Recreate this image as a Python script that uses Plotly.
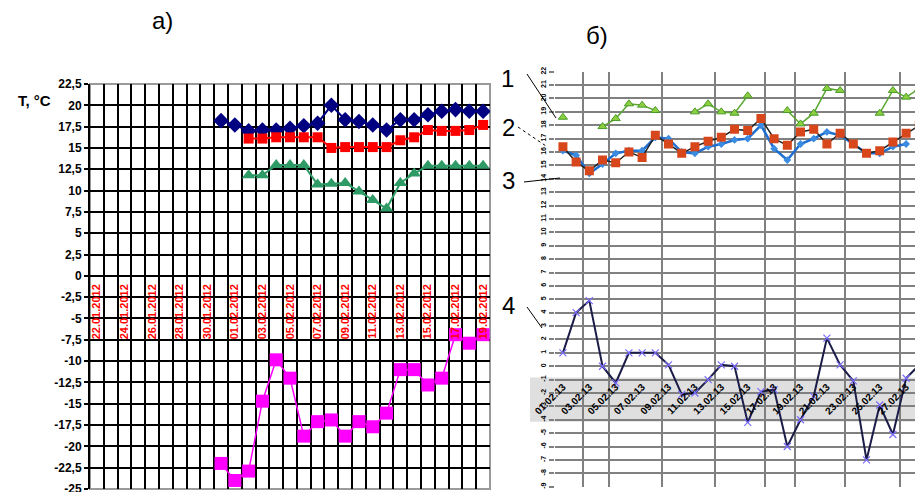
import plotly.graph_objects as go

W, H = 923, 492

# ---------------- panel а) data ----------------
dates_a = ["22.01.2012", "23.01.2012", "24.01.2012", "25.01.2012", "26.01.2012",
           "27.01.2012", "28.01.2012", "29.01.2012", "30.01.2012", "31.01.2012",
           "01.02.2012", "02.02.2012", "03.02.2012", "04.02.2012", "05.02.2012",
           "06.02.2012", "07.02.2012", "08.02.2012", "09.02.2012", "10.02.2012",
           "11.02.2012", "12.02.2012", "13.02.2012", "14.02.2012", "15.02.2012",
           "16.02.2012", "17.02.2012", "18.02.2012", "19.02.2012"]
navy_a = [None] * 9 + [18.2, 17.7, 17.0, 17.1, 17.1, 17.3, 17.6, 17.9, 20.0, 18.3,
                       18.1, 17.7, 17.1, 18.3, 18.3, 18.9, 19.3, 19.5, 19.3, 19.3]
red_a = [None] * 11 + [16.1, 16.1, 16.25, 16.25, 16.25, 16.25, 15.0, 15.1, 15.1,
                       15.1, 15.1, 15.9, 16.25, 17.1, 17.0, 17.0, 17.1, 17.7]
green_a = [None] * 11 + [11.8, 11.8, 13.0, 13.0, 13.0, 10.7, 10.8, 10.9, 9.9,
                         8.9, 7.9, 10.9, 12.0, 12.9, 12.9, 12.9, 12.9, 12.9]
magenta_a = [None] * 9 + [-22.0, -24.0, -22.9, -14.7, -9.85, -12.0, -18.8, -17.1,
                          -16.9, -18.8, -17.1, -17.7, -16.1, -11.0, -11.0, -12.8,
                          -12.0, -6.9, -7.9, -6.9]
yticks_a = [-25, -22.5, -20, -17.5, -15, -12.5, -10, -7.5, -5, -2.5, 0,
            2.5, 5, 7.5, 10, 12.5, 15, 17.5, 20, 22.5]
yticktext_a = [str(v).replace(".", ",").replace(",0", "") for v in yticks_a]

# ---------------- panel б) data ----------------
dates_b = ["01.02.13", "02.02.13", "03.02.13", "04.02.13", "05.02.13", "06.02.13",
           "07.02.13", "08.02.13", "09.02.13", "10.02.13", "11.02.13", "12.02.13",
           "13.02.13", "14.02.13", "15.02.13", "16.02.13", "17.02.13", "18.02.13",
           "19.02.13", "20.02.13", "21.02.13", "22.02.13", "23.02.13", "24.02.13",
           "25.02.13", "26.02.13", "27.02.13", "28.02.13"]
s1_b = [18.6, None, None, 17.9, 18.5, 19.6, 19.5, 19.1, None, None, 19.0, 19.6,
        19.0, 18.9, 20.2, None, None, 19.1, 18.1, 18.9, 20.75, 20.6, None, None,
        18.9, 20.6, 20.1, 20.75]
s2_b = [16.4, 15.25, 14.6, 15.4, 15.2, 16.0, 15.6, 17.25, 16.6, 15.9, 16.4, 16.8,
        17.1, 17.7, 17.6, 18.5, 17.0, 16.5, 17.5, 17.7, 16.6, 17.4, 16.6, 15.9,
        16.1, 16.75, 17.4, 18.0]
s3_b = [16.1, 15.75, 14.4, 15.1, 15.9, 16.1, 16.1, 17.1, 17.0, 16.0, 15.9, 16.4,
        16.6, 16.9, 17.0, 18.0, 16.25, 15.4, 16.6, 17.0, 17.5, 17.25, 16.6, 15.9,
        15.9, 16.4, 16.6, None]
s4_b = [1.0, 4.0, 4.9, 0.0, -1.25, 1.0, 1.0, 1.0, 0.1, -2.1, -2.0, -1.0, 0.1, 0.0,
        -4.2, -1.9, -1.75, -6.0, -4.0, -2.25, 2.1, 0.1, -1.1, -7.0, -2.9, -5.1,
        -0.9, 0.1]
yticks_b = list(range(-9, 23))

# ---------------- geometry helpers (page has an 8px body margin) ----------------
OFF = 8


def px(x):
    return (x - OFF) / W


def py(y):
    return 1 - (y - OFF) / H


xa = list(range(len(dates_a)))
xb = list(range(len(dates_b)))

ax_l = [px(90), px(490)]
ay_l = [py(489), py(84)]
yr_l = [-25, 22.5]
pos0_l = ay_l[0] + (0 - yr_l[0]) / (yr_l[1] - yr_l[0]) * (ay_l[1] - ay_l[0])

ax_r = [px(555), 1.0]
ay_r = [py(486.7), py(71.7)]
yr_r = [-9, 22]
xr_r = [-0.6, -0.6 + (W + OFF - 555) / 13.2]
pos0_r = ay_r[0] + (0 - yr_r[0]) / (yr_r[1] - yr_r[0]) * (ay_r[1] - ay_r[0])

FONT = "Liberation Sans"
NARROW = "Liberation Sans Narrow, Liberation Sans, Arial"

fig = go.Figure()

# panel а) traces
fig.add_trace(go.Scatter(x=xa, y=navy_a, mode="lines+markers", xaxis="x", yaxis="y",
                         line=dict(color="#000080", width=2),
                         marker=dict(symbol="diamond", size=12, color="#000080")))
fig.add_trace(go.Scatter(x=xa, y=red_a, mode="lines+markers", xaxis="x", yaxis="y",
                         line=dict(color="#ff0000", width=2),
                         marker=dict(symbol="square", size=10, color="#ff0000")))
fig.add_trace(go.Scatter(x=xa, y=green_a, mode="lines+markers", xaxis="x", yaxis="y",
                         line=dict(color="#2e9a66", width=2),
                         marker=dict(symbol="triangle-up", size=12, color="#2e9a66")))
fig.add_trace(go.Scatter(x=xa, y=magenta_a, mode="lines+markers", xaxis="x", yaxis="y",
                         line=dict(color="#ff00ff", width=1.5),
                         marker=dict(symbol="square", size=13, color="#ff00ff")))

# panel б) traces
fig.add_trace(go.Scatter(x=xb, y=s1_b, mode="lines+markers", xaxis="x2", yaxis="y2",
                         line=dict(color="#5aa832", width=1.5),
                         marker=dict(symbol="triangle-up", size=8, color="#8cd040",
                                     line=dict(color="#4a9a2a", width=1))))
fig.add_trace(go.Scatter(x=xb, y=s3_b, mode="lines+markers", xaxis="x2", yaxis="y2",
                         line=dict(color="#1e6fd0", width=2.5),
                         marker=dict(symbol="diamond", size=6, color="#3b8be0")))
fig.add_trace(go.Scatter(x=xb, y=s2_b, mode="lines+markers", xaxis="x2", yaxis="y2",
                         line=dict(color="#222222", width=1.5),
                         marker=dict(symbol="square", size=9, color="#d8461c")))
fig.add_trace(go.Scatter(x=xb, y=s4_b, mode="lines+markers", xaxis="x2", yaxis="y2",
                         line=dict(color="#1c1c48", width=2),
                         marker=dict(symbol="x-thin", size=7, color="#7a6cff",
                                     line=dict(color="#7a6cff", width=1.2))))

fig.update_layout(
    width=W, height=H, showlegend=False,
    margin=dict(l=0, r=0, t=0, b=0, autoexpand=False),
    paper_bgcolor="white", plot_bgcolor="rgba(0,0,0,0)",
    font=dict(family=FONT, color="black"),
    xaxis=dict(domain=ax_l, range=[-0.5, 28.5], anchor="free", position=pos0_l,
               automargin=False,
               tickmode="array", tickvals=xa[::2], ticktext=dates_a[::2],
               tickangle=-90, ticks="outside", ticklen=3, tickcolor="rgba(0,0,0,0)",
               tickfont=dict(family=NARROW, size=11, color="#ff0000", weight="bold"),
               showgrid=False, zeroline=False, showline=False,
               minor=dict(tick0=-0.5, dtick=1, showgrid=True, gridcolor="black",
                          gridwidth=2, ticks="")),
    yaxis=dict(domain=ay_l, range=yr_l, anchor="x", tickmode="array",
               automargin=False,
               tickvals=yticks_a, ticktext=yticktext_a,
               showgrid=True, gridcolor="black", gridwidth=2, zeroline=False,
               showline=True, linecolor="black", linewidth=2,
               ticks="outside", ticklen=4, tickwidth=2, tickcolor="black",
               tickfont=dict(family=NARROW, size=12, color="black", weight="bold")),
    xaxis2=dict(domain=ax_r, range=xr_r, anchor="free", position=pos0_r,
                automargin=False,
                tickmode="array", tickvals=xb[::2], ticktext=dates_b[::2],
                tickangle=-45, ticks="outside", ticklen=10, tickcolor="rgba(0,0,0,0)",
                tickfont=dict(family=FONT, size=10, color="black", weight="bold"),
                showgrid=False, zeroline=False, showline=False,
                minor=dict(tickmode="array",
                           tickvals=[1.5, 3.5, 7.5, 11.5, 15.3, 17.6, 21.4, 25.5],
                           showgrid=True, gridcolor="#808080", gridwidth=2, ticks="")),
    yaxis2=dict(domain=ay_r, range=yr_r, anchor="x2", tickmode="array",
                automargin=False,
                tickvals=yticks_b, ticktext=[str(v) for v in yticks_b],
                showgrid=True, gridcolor="#808080", gridwidth=2, zeroline=False,
                showline=False, ticks="outside", ticklen=5, tickwidth=1.5,
                tickcolor="#808080", tickangle=-90,
                tickfont=dict(family=FONT, size=7, color="black", weight="bold")),
)

# decorative shapes
shapes = [
    dict(type="rect", xref="x domain", yref="y domain", x0=0, x1=1, y0=0, y1=1,
         line=dict(color="#9a9a9a", width=2), layer="below"),
    dict(type="rect", xref="paper", yref="y2", x0=px(530), x1=px(918), y0=-0.85, y1=-4.15,
         fillcolor="#dcdcdc", line=dict(width=0), layer="below", opacity=0.9),
    dict(type="line", xref="paper", yref="paper", x0=px(527), y0=py(74), x1=px(556), y1=py(118),
         line=dict(color="black", width=1)),
    dict(type="line", xref="paper", yref="paper", x0=px(518), y0=py(127), x1=px(546), y1=py(146),
         line=dict(color="black", width=1, dash="dot")),
    dict(type="line", xref="paper", yref="paper", x0=px(524), y0=py(182), x1=px(560), y1=py(178),
         line=dict(color="black", width=1)),
    dict(type="line", xref="paper", yref="paper", x0=px(527), y0=py(307), x1=px(542), y1=py(328),
         line=dict(color="black", width=1)),
]
fig.update_layout(shapes=shapes)

annots = [
    dict(text="а)", x=px(162), y=py(21), size=24),
    dict(text="б)", x=px(597), y=py(36), size=24),
    dict(text="<b>T, °C</b>", x=px(34), y=py(101), size=15),
    dict(text="1", x=px(507), y=py(78), size=24),
    dict(text="2", x=px(508), y=py(127), size=24),
    dict(text="3", x=px(508), y=py(181), size=24),
    dict(text="4", x=px(508), y=py(305), size=24),
]
fig.update_layout(annotations=[
    dict(text=a["text"], x=a["x"], y=a["y"], xref="paper", yref="paper",
         showarrow=False, xanchor="center", yanchor="middle",
         font=dict(family=FONT, size=a["size"], color="black"))
    for a in annots
])

fig.write_html("out.html")
